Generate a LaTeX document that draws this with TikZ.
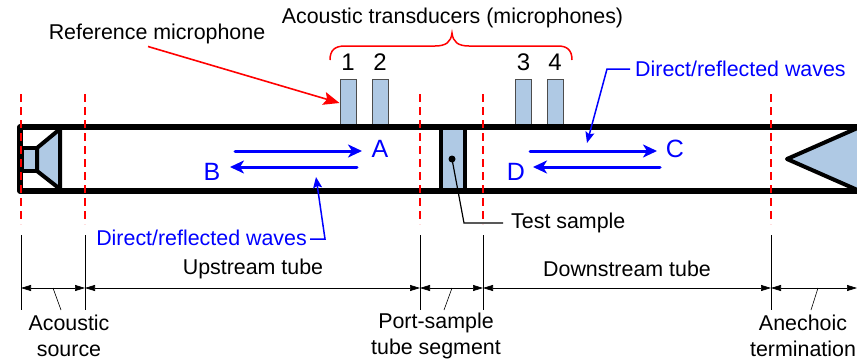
\documentclass[tikz,border=0pt]{standalone}
\usepackage{fontspec}
\setmainfont{Liberation Sans}
\usetikzlibrary{arrows.meta}
\definecolor{fillb}{RGB}{175,201,228}
\tikzset{
  x=1pt,y=-1pt,
  lbl/.style={inner sep=0pt,font=\fontsize{21.4}{26}\selectfont,align=center},
  numlbl/.style={inner sep=0pt,font=\fontsize{24}{26}\selectfont},
  blbl/.style={lbl,text=blue},
  biglbl/.style={inner sep=0pt,font=\fontsize{25}{30}\selectfont,text=blue},
  wall/.style={line width=5.5pt,line join=round},
  thick part/.style={line width=4pt,line join=round,fill=fillb},
  mic/.style={draw=black!70,line width=1pt,fill=fillb,minimum width=16pt,minimum height=48pt,inner sep=0pt},
  redcut/.style={red,line width=1.6pt,dash pattern=on 8pt off 5pt},
  wave/.style={blue,line width=3pt,line cap=round,-{Stealth[length=14pt,width=13pt,inset=4pt]}},
  thinblue/.style={blue,line width=1.5pt,-{Stealth[length=11pt,width=9pt,inset=2pt]}},
  dim/.style={line width=0.7pt,{Stealth[length=10pt,width=6pt,inset=0pt]}-{Stealth[length=10pt,width=6pt,inset=0pt]}},
  tick/.style={line width=0.8pt},
}
\begin{document}
\begin{tikzpicture}
\useasboundingbox (0,0) rectangle (857,359);
% fills first
\fill[fillb] (441,127) rectangle (465,191);
\draw[line width=4pt] (441,127) -- (441,191) (465,127) -- (465,191);
\draw[thick part] (22,148) rectangle (37,171);
\draw[thick part] (37,148) -- (60,129) -- (60,189) -- (37,171) -- cycle;
\draw[thick part] (862,126) -- (787,159) -- (862,192);
% mics
\node[mic] (m1) at (348,103) {};
\node[mic] (m2) at (380,103) {};
\node[mic] (m3) at (523.5,103) {};
\node[mic] (m4) at (555.5,103) {};
% tube
\draw[wall] (857,127) -- (20,127) -- (20,191) -- (857,191);
% red section cuts
\foreach \xx in {21,85,420,483,771}{\draw[redcut] (\xx,94) -- (\xx,224);}
% numbers
\node[numlbl] (n1) at (348,62) {1};
\node[numlbl] (n2) at (380,62) {2};
\node[numlbl] (n3) at (523.5,62) {3};
\node[numlbl] (n4) at (555,62) {4};
% bracket
\draw[red,line width=1.5pt] (330,60) .. controls (330,50) and (335,46) .. (345,46) -- (435,46) .. controls (446,46) and (451,42) .. (452,33) .. controls (453,42) and (458,46) .. (469,46) -- (558,46) .. controls (567,46) and (572,50) .. (572,60);
\node[lbl] (title) at (452.5,18) {Acoustic transducers (microphones)};
\node[lbl] (ref) at (157,34) {Reference microphone};
\coordinate (rs) at (148,46.5);
\draw[red,line width=1.6pt,-{Stealth[length=16pt,width=13pt,inset=3pt]}] (rs) -- (m1.west);
% waves
\coordinate (a1) at (235,151); \coordinate (a2) at (362,151);
\coordinate (b1) at (357,167); \coordinate (b2) at (230,167);
\coordinate (c1) at (530,151); \coordinate (c2) at (657,151);
\coordinate (d1) at (660,167); \coordinate (d2) at (533,167);
\draw[wave] (a1) -- (a2);
\draw[wave] (b1) -- (b2);
\draw[wave] (c1) -- (c2);
\draw[wave] (d1) -- (d2);
\node[biglbl] (A) at (380,149) {A};
\node[biglbl] (B) at (212,172) {B};
\node[biglbl] (C) at (675,149) {C};
\node[biglbl] (D) at (516,172) {D};
% direct/reflected labels
\node[blbl,anchor=east] (dr1) at (307,238) {Direct/reflected waves};
\node[blbl,anchor=west] (dr2) at (635,69) {Direct/reflected waves};
\coordinate (t1) at (316,177); \coordinate (t2) at (587,143);
\coordinate (s1) at (310,239); \coordinate (s2) at (630,69);
\draw[thinblue] (s1) -- (325,239) -- (t1);
\draw[thinblue] (s2) -- (607,69) -- (t2);
% test sample
\node[lbl,anchor=west] (ts) at (511,223) {Test sample};
\node[circle,fill=black,minimum size=7pt,inner sep=0pt] (dot) at (452,159) {};
\coordinate (tse) at (503,223);
\draw[line width=1.2pt] (dot.center) -- (464,223) -- (tse);
% dimension ticks
\coordinate (v0) at (21,235); \coordinate (w0) at (21,310);
\coordinate (v1) at (85,235); \coordinate (w1) at (85,310);
\coordinate (v2) at (420,235); \coordinate (w2) at (420,310);
\coordinate (v3) at (483,235); \coordinate (w3) at (483,310);
\coordinate (v4) at (771,235); \coordinate (w4) at (771,310);
\coordinate (v5) at (857,288);
\draw[tick] (v0) -- (w0) (v1) -- (w1) (v2) -- (w2) (v3) -- (w3) (v4) -- (w4);
\draw[dim] (21,288) -- (85,288);
\draw[dim] (85,288) -- (420,288);
\draw[dim] (420,288) -- (483,288);
\draw[dim] (483,288) -- (771,288);
\draw[dim] (771,288) -- (v5);
\draw[line width=0.6pt] (53,288) -- (61,310) (452,288) -- (444,310) (818,288) -- (811,310);
% lower labels
\node[lbl] (up) at (253,269) {Upstream tube};
\node[lbl] (down) at (627,269) {Downstream tube};
\node[lbl] (src) at (69,335.5) {Acoustic\\source};
\node[lbl] (port) at (436,335.5) {Port-sample\\tube segment};
\node[lbl] (ane) at (803,335.5) {Anechoic\\termination};
\end{tikzpicture}
\end{document}
